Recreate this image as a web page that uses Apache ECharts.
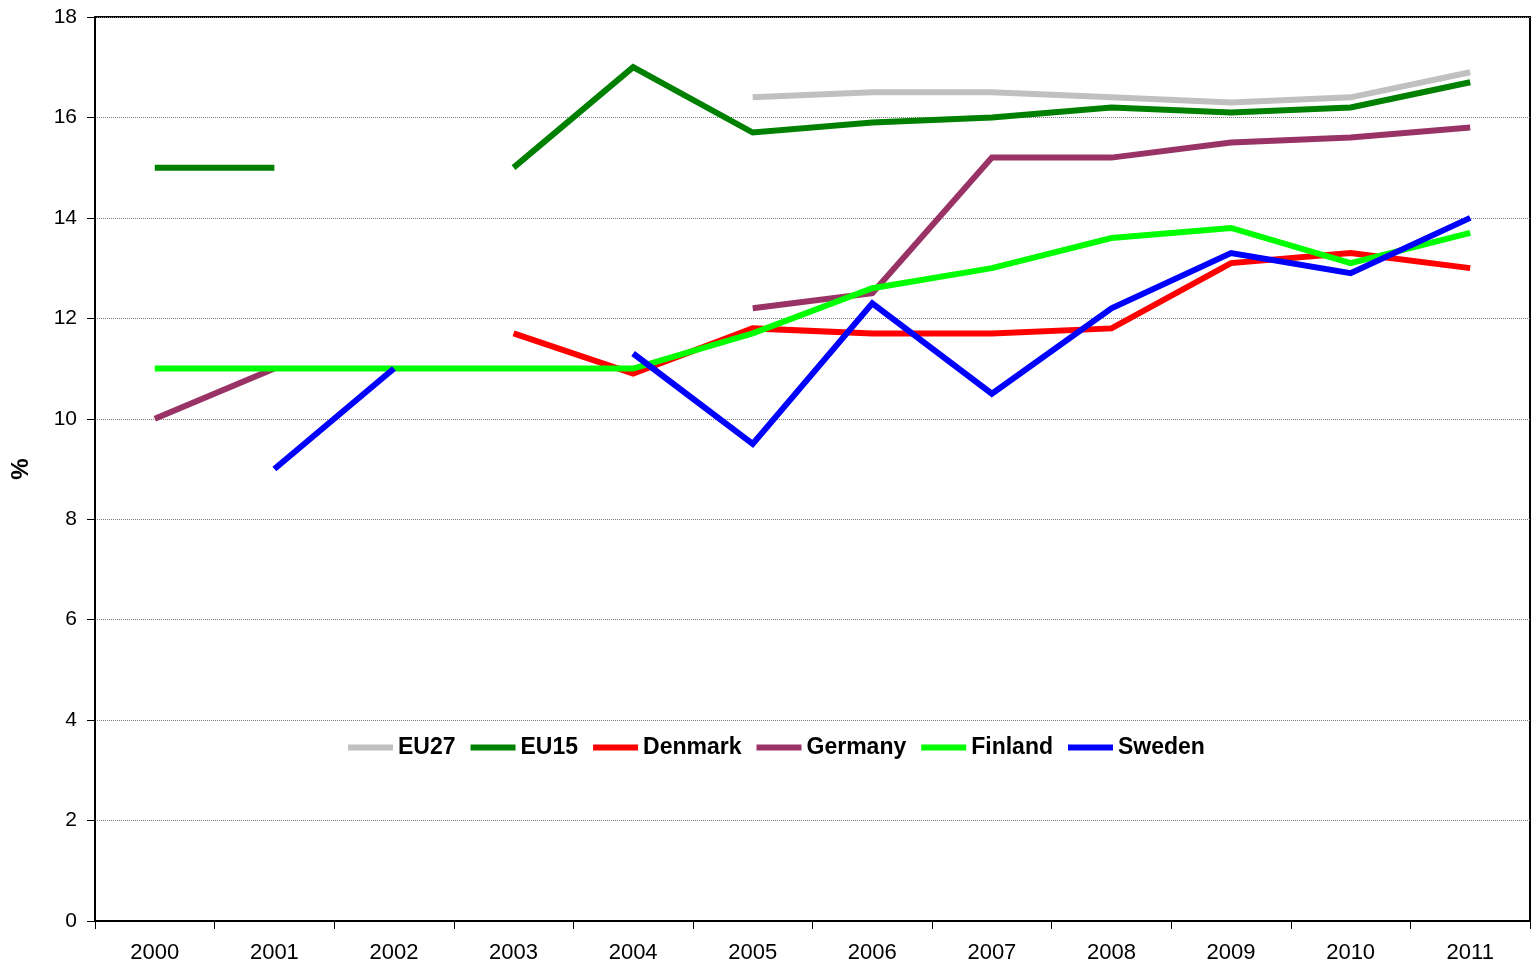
<!DOCTYPE html>
<html>
<head>
<meta charset="utf-8">
<script src="https://cdn.jsdelivr.net/npm/echarts@6/dist/echarts.min.js"></script>
<style>
html,body{margin:0;padding:0;background:#fff;}
#chart{width:1537px;height:964px;}
</style>
</head>
<body>
<div id="chart"></div>
<script>
const years = ['2000','2001','2002','2003','2004','2005','2006','2007','2008','2009','2010','2011'];
const eu27    = [null, null, null, null, null, 16.4, 16.5, 16.5, 16.4, 16.3, 16.4, 16.9];
const eu15    = [15.0, 15.0, null, 15.0, 17.0, 15.7, 15.9, 16.0, 16.2, 16.1, 16.2, 16.7];
const denmark = [null, null, null, 11.7, 10.9, 11.8, 11.7, 11.7, 11.8, 13.1, 13.3, 13.0];
const germany = [10.0, 11.0, null, null, null, 12.2, 12.5, 15.2, 15.2, 15.5, 15.6, 15.8];
const finland = [11.0, 11.0, 11.0, 11.0, 11.0, 11.7, 12.6, 13.0, 13.6, 13.8, 13.1, 13.7];
const sweden  = [null, 9.0, 11.0, null, 11.3, 9.5, 12.3, 10.5, 12.2, 13.3, 12.9, 14.0];
const yTicks = {min: 0, max: 18, interval: 2};

const seriesDefs = [
  {name: 'EU27', data: eu27, color: '#C0C0C0'},
  {name: 'EU15', data: eu15, color: '#008000'},
  {name: 'Denmark', data: denmark, color: '#FF0000'},
  {name: 'Germany', data: germany, color: '#993366'},
  {name: 'Finland', data: finland, color: '#00FF00'},
  {name: 'Sweden', data: sweden, color: '#0000FF'}
];

const font = 'Liberation Sans, Arial, sans-serif';
const chart = echarts.init(document.getElementById('chart'), null, {renderer: 'canvas'});
chart.setOption({
  animation: false,
  backgroundColor: '#fff',
  grid: {left: 95, right: 7, top: 17, bottom: 43, show: true, borderColor: '#000', borderWidth: 2, backgroundColor: 'transparent'},
  legend: {
    left: 343, top: 731,
    itemWidth: 45, itemHeight: 6, itemGap: 15,
    icon: 'rect',
    textStyle: {fontFamily: font, fontWeight: 'bold', fontSize: 23, color: '#000'},
    data: seriesDefs.map(s => s.name)
  },
  xAxis: {
    type: 'category', data: years, boundaryGap: true,
    axisLine: {lineStyle: {color: '#000', width: 2}},
    axisTick: {show: true, length: 8, lineStyle: {color: '#000', width: 1}},
    axisLabel: {fontFamily: font, fontSize: 22, color: '#000', margin: 21},
    splitLine: {show: false}
  },
  yAxis: {
    type: 'value', min: yTicks.min, max: yTicks.max, interval: yTicks.interval,
    name: '%', nameLocation: 'middle', nameGap: 62, nameRotate: 90,
    nameTextStyle: {fontFamily: font, fontWeight: 'bold', fontSize: 24, color: '#000'},
    axisLine: {show: true, lineStyle: {color: '#000', width: 2}},
    axisTick: {show: true, length: 8, lineStyle: {color: '#000', width: 1}},
    axisLabel: {fontFamily: font, fontSize: 21, color: '#000', margin: 18},
    splitLine: {show: true, lineStyle: {color: '#808080', width: 1, type: [1, 1]}}
  },
  series: seriesDefs.map(s => ({
    name: s.name, type: 'line', data: s.data,
    showSymbol: false, symbol: 'none', connectNulls: false,
    lineStyle: {color: s.color, width: 6, cap: 'butt', join: 'miter'},
    itemStyle: {color: s.color},
    emphasis: {disabled: true}
  }))
});
</script>
</body>
</html>
